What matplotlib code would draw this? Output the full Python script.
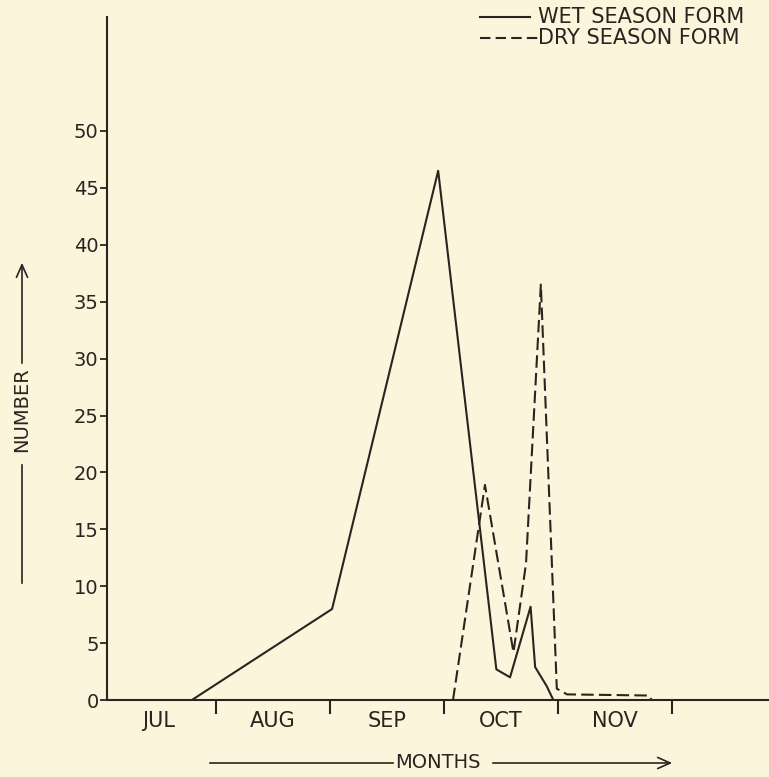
import matplotlib
matplotlib.use("Agg")
import matplotlib.pyplot as plt
from matplotlib.lines import Line2D
from matplotlib.patches import FancyArrowPatch

# x in month units: 1, 2, 3, ... are the month boundaries (JUL|AUG, AUG|SEP, ...)
wet_x = [0.79, 2.02, 2.95, 3.46, 3.58, 3.76, 3.80, 3.90, 3.96]
wet_y = [0, 8, 46.5, 2.7, 2.0, 8.2, 2.9, 1.25, 0]

dry_x = [3.08, 3.36, 3.61, 3.72, 3.85, 3.99, 4.08, 4.80, 4.82]
dry_y = [0, 18.9, 4.2, 12.0, 36.5, 1.0, 0.5, 0.4, 0]

months = ["JUL", "AUG", "SEP", "OCT", "NOV"]
month_bounds = [1, 2, 3, 4, 5]
y_ticks = [0, 5, 10, 15, 20, 25, 30, 35, 40, 45, 50]

bg = "#fbf5dc"
ink = "#2b2320"


def fx(px):
    return px / 769


def fy(py):
    return 1 - py / 777


def main():
    plt.rcParams["font.family"] = ["DejaVu Sans"]
    fig = plt.figure(figsize=(7.69, 7.77), dpi=100, facecolor=bg)
    ax = fig.add_axes([0.139, 0.099, 0.861, 0.879], facecolor=bg)

    ax.plot(wet_x, wet_y, color=ink, lw=1.5)
    ax.plot(dry_x, dry_y, color=ink, lw=1.5, dashes=(6, 2.5))

    ax.set_xlim(0.046, 5.85)
    ax.set_ylim(0, 60)

    for s in ["top", "right"]:
        ax.spines[s].set_visible(False)
    for s in ["left", "bottom"]:
        ax.spines[s].set_color(ink)
        ax.spines[s].set_linewidth(1.5)

    ax.set_yticks(y_ticks)
    ax.set_yticklabels([str(v) for v in y_ticks])
    ax.tick_params(axis="y", direction="out", length=5, width=1.3, pad=1,
                   colors=ink, labelsize=14)

    # month boundaries as ticks, names as minor labels in between
    ax.set_xticks(month_bounds)
    ax.set_xticklabels([""] * len(month_bounds))
    ax.tick_params(axis="x", which="major", direction="out", length=10,
                   width=1.5, colors=ink)
    ax.set_xticks([b - 0.5 for b in month_bounds], minor=True)
    ax.set_xticklabels(months, minor=True)
    ax.tick_params(axis="x", which="minor", length=0, pad=8, colors=ink,
                   labelsize=15)

    # legend, drawn by hand like the original
    fig.add_artist(Line2D([fx(480), fx(530)], [fy(17), fy(17)], color=ink, lw=1.5))
    fig.add_artist(Line2D([fx(480), fx(538)], [fy(38), fy(38)], color=ink, lw=1.5,
                          dashes=(5, 2.5)))
    fig.text(fx(538), fy(17), "WET SEASON FORM", ha="left", va="center",
             fontsize=15, color=ink)
    fig.text(fx(538), fy(38), "DRY SEASON FORM", ha="left", va="center",
             fontsize=15, color=ink)

    # x axis title with arrow
    fig.text(fx(438), fy(762), "MONTHS", ha="center", va="center", fontsize=14,
             color=ink)
    fig.add_artist(Line2D([fx(210), fx(393)], [fy(763), fy(763)], color=ink, lw=1.2))
    fig.patches.append(FancyArrowPatch(
        (fx(490), fy(763)), (fx(675), fy(763)), transform=fig.transFigure,
        arrowstyle="->,head_length=9,head_width=4", color=ink, lw=1.2))

    # y axis title with arrow
    fig.text(fx(22), fy(410), "NUMBER", rotation=90, ha="center", va="center",
             fontsize=14, color=ink)
    fig.add_artist(Line2D([fx(22), fx(22)], [fy(465), fy(583)], color=ink, lw=1.2))
    fig.patches.append(FancyArrowPatch(
        (fx(22), fy(366)), (fx(22), fy(260)), transform=fig.transFigure,
        arrowstyle="->,head_length=9,head_width=4", color=ink, lw=1.2))

    fig.savefig("out.png", dpi=100, facecolor=bg)


if __name__ == "__main__":
    main()
